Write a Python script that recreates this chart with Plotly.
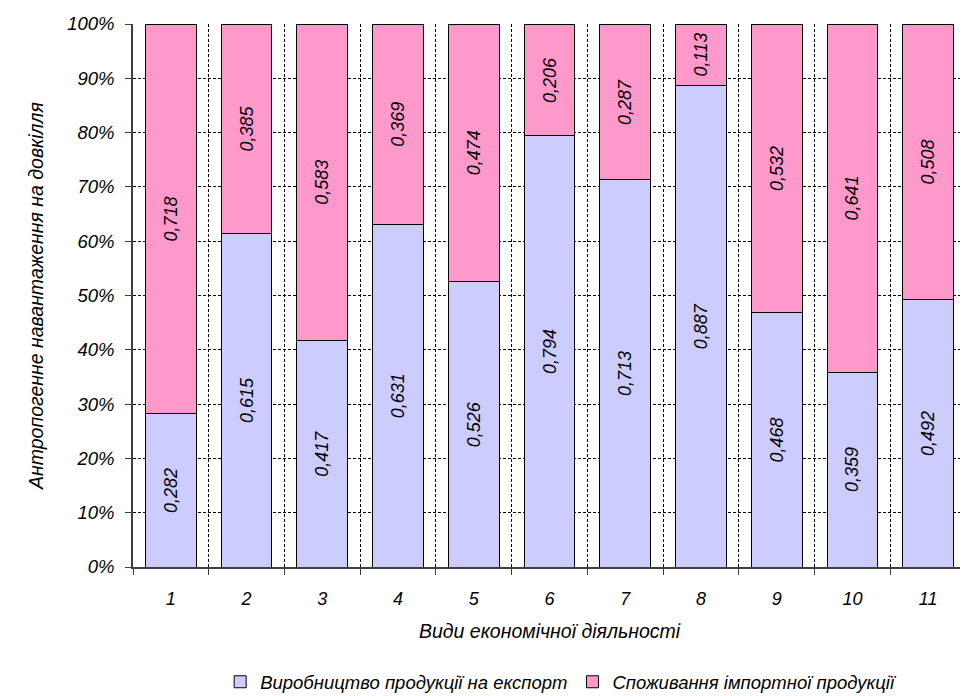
import plotly.graph_objects as go

categories = ["1", "2", "3", "4", "5", "6", "7", "8", "9", "10", "11"]
export_prod = [0.282, 0.615, 0.417, 0.631, 0.526, 0.794, 0.713, 0.887, 0.468, 0.359, 0.492]
import_cons = [0.718, 0.385, 0.583, 0.369, 0.474, 0.206, 0.287, 0.113, 0.532, 0.641, 0.508]
y_ticks = [0, 10, 20, 30, 40, 50, 60, 70, 80, 90, 100]
y_tick_labels = [f"{t}%" for t in y_ticks]

FONT = "Liberation Sans, Arial, sans-serif"


def label(vals):
    # comma as decimal separator, like the original
    return [f"{v:.3f}".replace(".", ",") for v in vals]


fig = go.Figure()
fig.add_bar(x=categories, y=export_prod, name="Виробництво продукції на експорт",
            marker=dict(color="#CCCCFF", line=dict(color="black", width=1)),
            text=label(export_prod))
fig.add_bar(x=categories, y=import_cons, name="Споживання імпортної продукції",
            marker=dict(color="#FF99CC", line=dict(color="black", width=1)),
            text=label(import_cons))

fig.update_traces(textposition="inside", insidetextanchor="middle", textangle=-90,
                  textfont=dict(family=FONT, size=18, color="black", style="italic"),
                  constraintext="none", hoverinfo="skip")

# page body has an 8px margin, so the figure is 960x688 inside the 968x696 window
fig.update_layout(
    barmode="stack", barnorm="percent", bargap=0.33,
    width=960, height=688,
    margin=dict(l=125, r=2, t=16, b=129),
    paper_bgcolor="white", plot_bgcolor="white",
    font=dict(family=FONT, size=18, color="black", style="italic"),
    legend=dict(orientation="h", x=0.514, xanchor="center",
                yref="container", y=0.02, yanchor="middle",
                font=dict(size=18.5, style="italic"), traceorder="normal"),
)
fig.update_xaxes(type="category", tickson="boundaries", ticks="outside", ticklen=6,
                 tickcolor="#404040", showline=True, linecolor="#404040", linewidth=1.5,
                 showgrid=True, gridcolor="black", gridwidth=1, griddash="3px,2px",
                 tickfont=dict(size=18, style="italic"), ticklabelstandoff=15,
                 automargin=False,
                 title=dict(text="Види економічної діяльності", font=dict(size=19.5, style="italic"),
                            standoff=16))
fig.update_yaxes(range=[0, 100], tickvals=y_ticks, ticktext=y_tick_labels,
                 ticks="outside", ticklen=6,
                 tickcolor="#404040", showline=True, linecolor="#404040", linewidth=1.5,
                 showgrid=True, gridcolor="black", gridwidth=1, griddash="3px,2px",
                 zeroline=False, tickfont=dict(size=18.5, style="italic"), ticklabelstandoff=7,
                 automargin=False,
                 title=dict(text="Антропогенне навантаження на довкілля",
                            font=dict(size=19.5, style="italic"), standoff=18))

fig.write_html("out.html")
